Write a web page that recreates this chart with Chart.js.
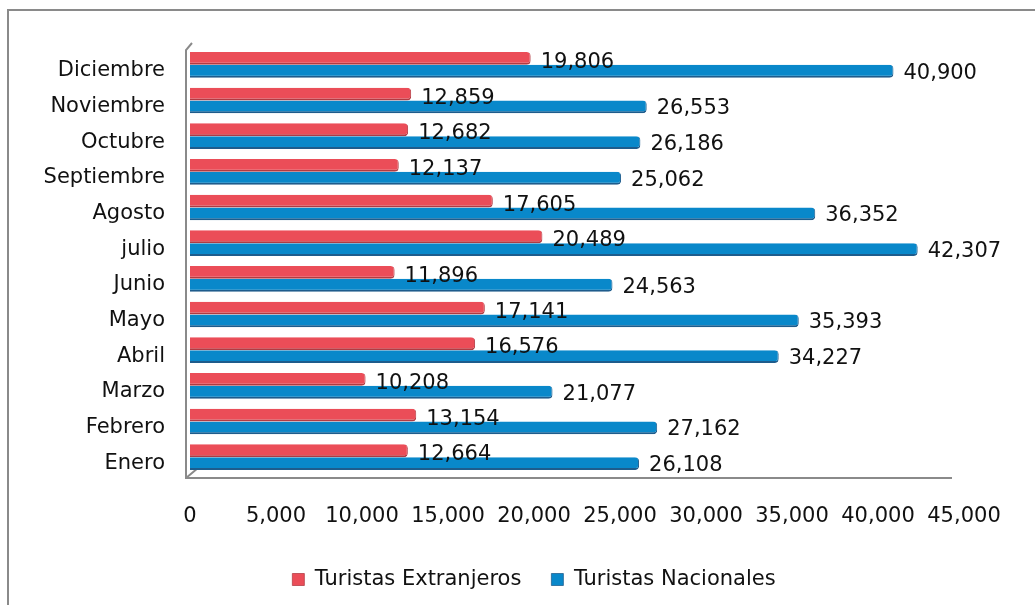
<!DOCTYPE html>
<html lang="es">
<head>
<meta charset="utf-8">
<title>Turistas por mes</title>
<script src="https://cdn.jsdelivr.net/npm/chart.js@4.4.1/dist/chart.umd.min.js"></script>
<style>
  html, body { margin: 0; padding: 0; background: #fff; overflow: hidden; }
  #frame {
    position: absolute; left: 7px; top: 9px; width: 2000px; height: 2000px;
    border-left: 2px solid #8a8a8a; border-top: 2px solid #8a8a8a;
  }
  #wrap { position: absolute; left: 0; top: 0; width: 1035px; height: 605px; }
</style>
</head>
<body>
<div id="frame"></div>
<div id="wrap"><canvas id="touristChart"></canvas></div>
<script>
const months = [
  "Enero", "Febrero", "Marzo", "Abril", "Mayo", "Junio",
  "julio", "Agosto", "Septiembre", "Octubre", "Noviembre", "Diciembre",
];
const foreignTourists = [12664, 13154, 10208, 16576, 17141, 11896, 20489, 17605, 12137, 12682, 12859, 19806];
const nationalTourists = [26108, 27162, 21077, 34227, 35393, 24563, 42307, 36352, 25062, 26186, 26553, 40900];
const xTicks = [0, 5000, 10000, 15000, 20000, 25000, 30000, 35000, 40000, 45000];

const numberFormat = new Intl.NumberFormat("en-US");
const FONT = "'DejaVu Sans', sans-serif";

// value labels to the right of each bar
const barLabels = {
  id: "barLabels",
  afterDatasetsDraw(chart) {
    const ctx = chart.ctx;
    ctx.save();
    ctx.font = `21px ${FONT}`;
    ctx.fillStyle = "#111";
    ctx.textAlign = "left";
    ctx.textBaseline = "middle";
    chart.data.datasets.forEach((ds, i) => {
      const meta = chart.getDatasetMeta(i);
      const dy = i === 0 ? 4 : 2;
      meta.data.forEach((bar, j) => {
        ctx.fillText(numberFormat.format(ds.data[j]), bar.x + 10, bar.y + dy);
      });
    });
    ctx.restore();
  },
};

// left wall and floor edges of the pseudo-3d plot
const wallEdges = {
  id: "wallEdges",
  beforeDatasetsDraw(chart) {
    const { ctx, chartArea: a } = chart;
    ctx.save();
    ctx.strokeStyle = "#8a8a8a";
    ctx.lineWidth = 2;
    ctx.beginPath();
    ctx.moveTo(a.left + 2, a.top - 4);
    ctx.lineTo(a.left - 4, a.top + 3);
    ctx.lineTo(a.left - 4, a.bottom + 3);
    ctx.lineTo(a.right - 12, a.bottom + 3);
    ctx.moveTo(a.left - 4, a.bottom + 3);
    ctx.lineTo(a.left + 8, a.bottom - 7);
    ctx.stroke();
    ctx.restore();
  },
};

// wide gaps between legend items without a tall legend box,
// and the legend centred a bit right of the canvas middle
const legendPlacement = {
  id: "legendPlacement",
  afterInit(chart) {
    const legend = chart.legend;
    const fit = legend.fit.bind(legend);
    legend.fit = function () {
      fit();
      this.height = 66;
    };
  },
  afterLayout(chart) {
    chart.legend.left = 104;
  },
};

new Chart(document.getElementById("touristChart"), {
  type: "bar",
  data: {
    labels: months,
    datasets: [
      {
        label: "Turistas Extranjeros",
        data: foreignTourists,
        backgroundColor: "#eb4d58",
        borderColor: "#b23a42",
        borderWidth: { top: 0, right: 1, bottom: 2, left: 0 },
        borderRadius: { topRight: 4, bottomRight: 4 },
        borderSkipped: false,
      },
      {
        label: "Turistas Nacionales",
        data: nationalTourists,
        backgroundColor: "#0988ca",
        borderColor: "#1e5c8c",
        borderWidth: { top: 0, right: 1, bottom: 2, left: 0 },
        borderRadius: { topRight: 4, bottomRight: 4 },
        borderSkipped: false,
      },
    ],
  },
  options: {
    indexAxis: "y",
    responsive: true,
    maintainAspectRatio: false,
    animation: false,
    datasets: { bar: { barPercentage: 1, categoryPercentage: 0.72 } },
    layout: { padding: { top: 47, right: 71, bottom: 0, left: 0 } },
    plugins: {
      legend: {
        position: "bottom",
        labels: {
          font: { family: FONT, size: 21 },
          color: "#111",
          boxWidth: 12,
          boxHeight: 12,
          padding: 30,
        },
      },
      tooltip: { enabled: false },
    },
    scales: {
      x: {
        min: 0,
        max: 45000,
        afterBuildTicks: (scale) => {
          scale.ticks = xTicks.map((v) => ({ value: v }));
        },
        afterFit: (scale) => { scale.height = 64; },
        grid: { display: false, drawTicks: false },
        border: { display: false },
        ticks: {
          padding: 29,
          color: "#111",
          font: { family: FONT, size: 21 },
          callback: (v) => numberFormat.format(v),
        },
      },
      y: {
        reverse: true,
        afterFit: (scale) => { scale.width = 190; },
        grid: { display: false, drawTicks: false },
        border: { display: false },
        ticks: {
          padding: 25,
          labelOffset: 6,
          color: "#111",
          font: { family: FONT, size: 21 },
        },
      },
    },
  },
  plugins: [wallEdges, barLabels, legendPlacement],
});
</script>
</body>
</html>
